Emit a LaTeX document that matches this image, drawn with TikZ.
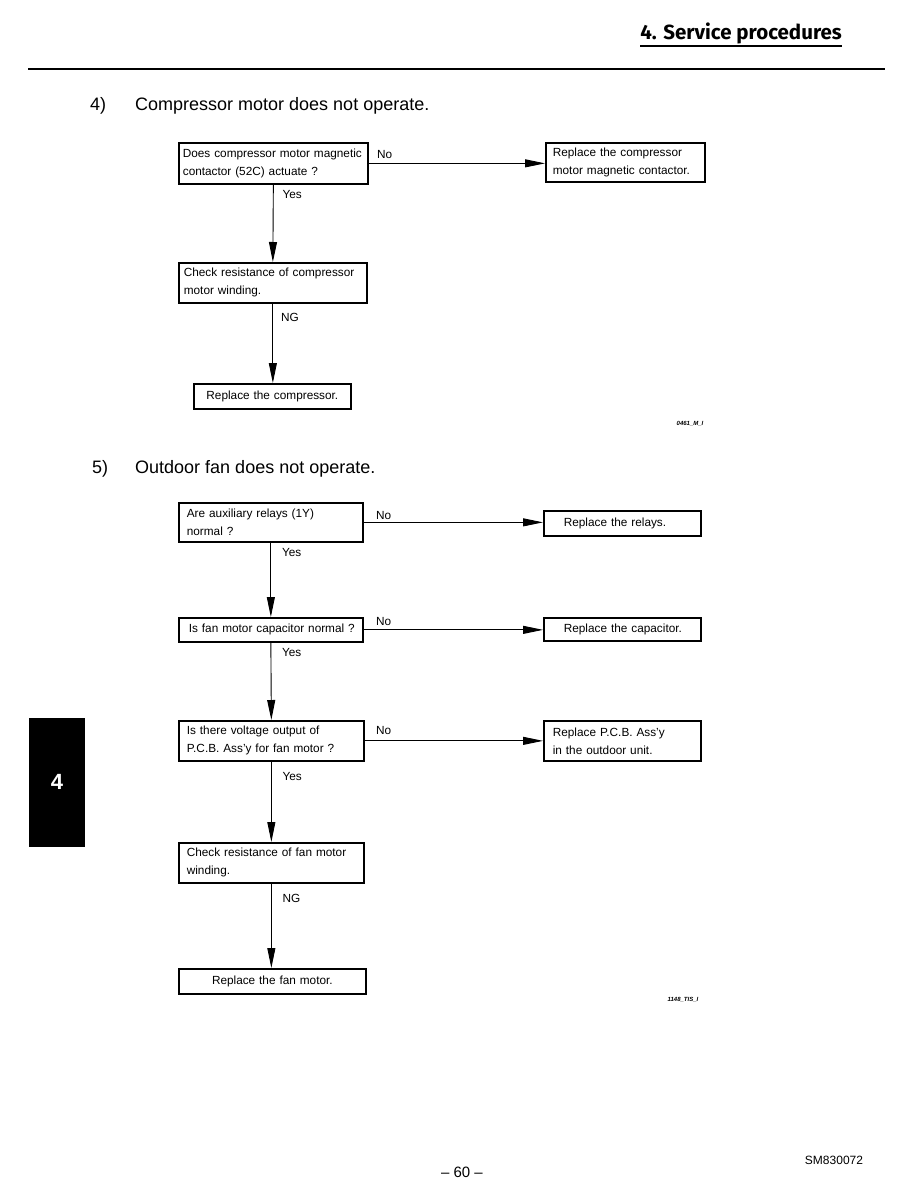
\documentclass[tikz,border=0pt]{standalone}
\usepackage{fontspec}
\setmainfont{Liberation Sans}
\newfontfamily\headfont{Fira Sans}
\usetikzlibrary{positioning,arrows.meta,calc}
\newcommand\boxfont{\fontsize{11.8}{18}\selectfont\hyphenpenalty=10000\relax}

\begin{document}
\begin{tikzpicture}[x=1pt, y=-1pt,
    box/.style={draw, line width=1.7pt, anchor=north west, align=left,
                inner ysep=2pt, font=\boxfont},
    flow/.style={-{Triangle[length=20pt, width=8pt]}, line width=0.9pt},
    lbl/.style={font=\fontsize{11.8}{14}\selectfont, inner sep=0pt, anchor=north west},
    ttl/.style={font=\fontsize{18}{20}\selectfont, anchor=base west, inner sep=0pt},
    tag/.style={font=\fontsize{6}{7}\selectfont\bfseries\itshape, inner sep=0pt},
  ]
  \useasboundingbox (0,0) rectangle (918,1188);

  % ============================== Page head ================================
  \node[font=\headfont\bfseries\fontsize{20.5}{24}\selectfont, anchor=base east,
        inner sep=0pt] (hdr) at (842,40) {4. Service procedures};
  \draw[line width=1.2pt] ($(hdr.base west)+(0,6)$) -- ($(hdr.base east)+(0,6)$);
  \draw[line width=1.2pt] (28,69) -- (885,69);

  % ============================== Chart 4) =================================
  % Compressor motor does not operate.
  \node[ttl] (n4) at (90,111) {4)};
  \node[ttl] (t4) at (135,111) {Compressor motor does not operate.};

  \node[box, text width=181pt, inner xsep=4pt, minimum height=41pt] (a1) at (178,142)
    {Does compressor motor magnetic\\contactor (52C) actuate ?};
  \node[box, text width=145pt, inner xsep=7pt, minimum height=39pt] (b1) at (545,142)
    {Replace the compressor\\motor magnetic contactor.};
  \node[box, text width=178pt, inner xsep=5pt, minimum height=40pt] (a2) at (178,262)
    {Check resistance of compressor\\motor winding.};
  \node[box, align=center, text width=147pt, inner xsep=5pt, minimum height=25pt] (a3) at (193,383)
    {Replace the compressor.};

  \draw[flow] (a1.east) -- (a1.east -| b1.west)
    node[lbl, pos=0, anchor=base west, xshift=8pt, yshift=5pt] {No};
  \draw[flow] (a1.south) -- (a2.north);
  \node[lbl] at ($(a1.south)+(9,5.5)$) {Yes};
  \draw[flow] (a2.south) -- (a2.south |- a3.north);
  \node[lbl] at ($(a2.south)+(8,9.5)$) {NG};

  \node[tag] at (690,424) {0461\_M\_I};

  % ============================== Chart 5) =================================
  % Outdoor fan does not operate.
  \node[ttl] (n5) at (92,473) {5)};
  \node[ttl] (t5) at (135,473) {Outdoor fan does not operate.};

  \node[box, text width=168pt, inner xsep=8pt, minimum height=39pt] (c1) at (178,502)
    {Are auxiliary relays (1Y)\\normal ?};
  \node[box, text width=121pt, inner xsep=18pt, minimum height=25pt] (d1) at (543,510)
    {\hspace*{2pt}Replace the relays.};
  \node[box, text width=168pt, inner xsep=8pt, minimum height=24pt] (c2) at (178,617)
    {\hspace*{2pt}Is fan motor capacitor normal ?};
  \node[box, text width=121pt, inner xsep=18pt, minimum height=23pt] (d2) at (543,617)
    {\hspace*{2pt}Replace the capacitor.};
  \node[box, text width=169pt, inner xsep=8pt, minimum height=40pt] (c3) at (178,720)
    {Is there voltage output of\\P.C.B. Ass'y for fan motor ?};
  \node[box, text width=139pt, inner xsep=9pt, minimum height=40pt] (d3) at (543,720)
    {Replace P.C.B. Ass'y\\in the outdoor unit.};
  \node[box, text width=169pt, inner xsep=8pt, minimum height=40pt] (c4) at (178,842)
    {Check resistance of fan motor\\winding.};
  \node[box, align=center, text width=177pt, inner xsep=5pt, minimum height=25pt] (c5) at (178,968)
    {Replace the fan motor.};

  \draw[flow] (c1.east) -- (c1.east -| d1.west)
    node[lbl, pos=0, anchor=base west, xshift=12pt, yshift=3pt] {No};
  \draw[flow] (c2.east) -- (c2.east -| d2.west)
    node[lbl, pos=0, anchor=base west, xshift=12pt, yshift=4pt] {No};
  \draw[flow] (c3.east) -- (c3.east -| d3.west)
    node[lbl, pos=0, anchor=base west, xshift=11pt, yshift=6pt] {No};

  \draw[flow] (c1.south) -- (c2.north);
  \node[lbl] at ($(c1.south)+(11,5.5)$) {Yes};
  \draw[flow] (c2.south) -- (c3.north);
  \node[lbl] at ($(c2.south)+(11,5.5)$) {Yes};
  \draw[flow] (c3.south) -- (c4.north);
  \node[lbl] at ($(c3.south)+(11,10.5)$) {Yes};
  \draw[flow] (c4.south) -- (c4.south |- c5.north);
  \node[lbl] at ($(c4.south)+(11,10.5)$) {NG};

  \node[tag] at (683,1000) {1148\_TIS\_I};

  % ============================== Side tab / foot ===========================
  \fill (29,718) rectangle (85,847);
  \node[white, font=\fontsize{22}{24}\selectfont\bfseries] (tab) at (57,782) {4};

  \node[font=\fontsize{15}{17}\selectfont] (pg) at (462,1172) {-- 60 --};
  \node[font=\fontsize{12}{14}\selectfont] (doc) at (834,1160) {SM830072};
\end{tikzpicture}
\end{document}
